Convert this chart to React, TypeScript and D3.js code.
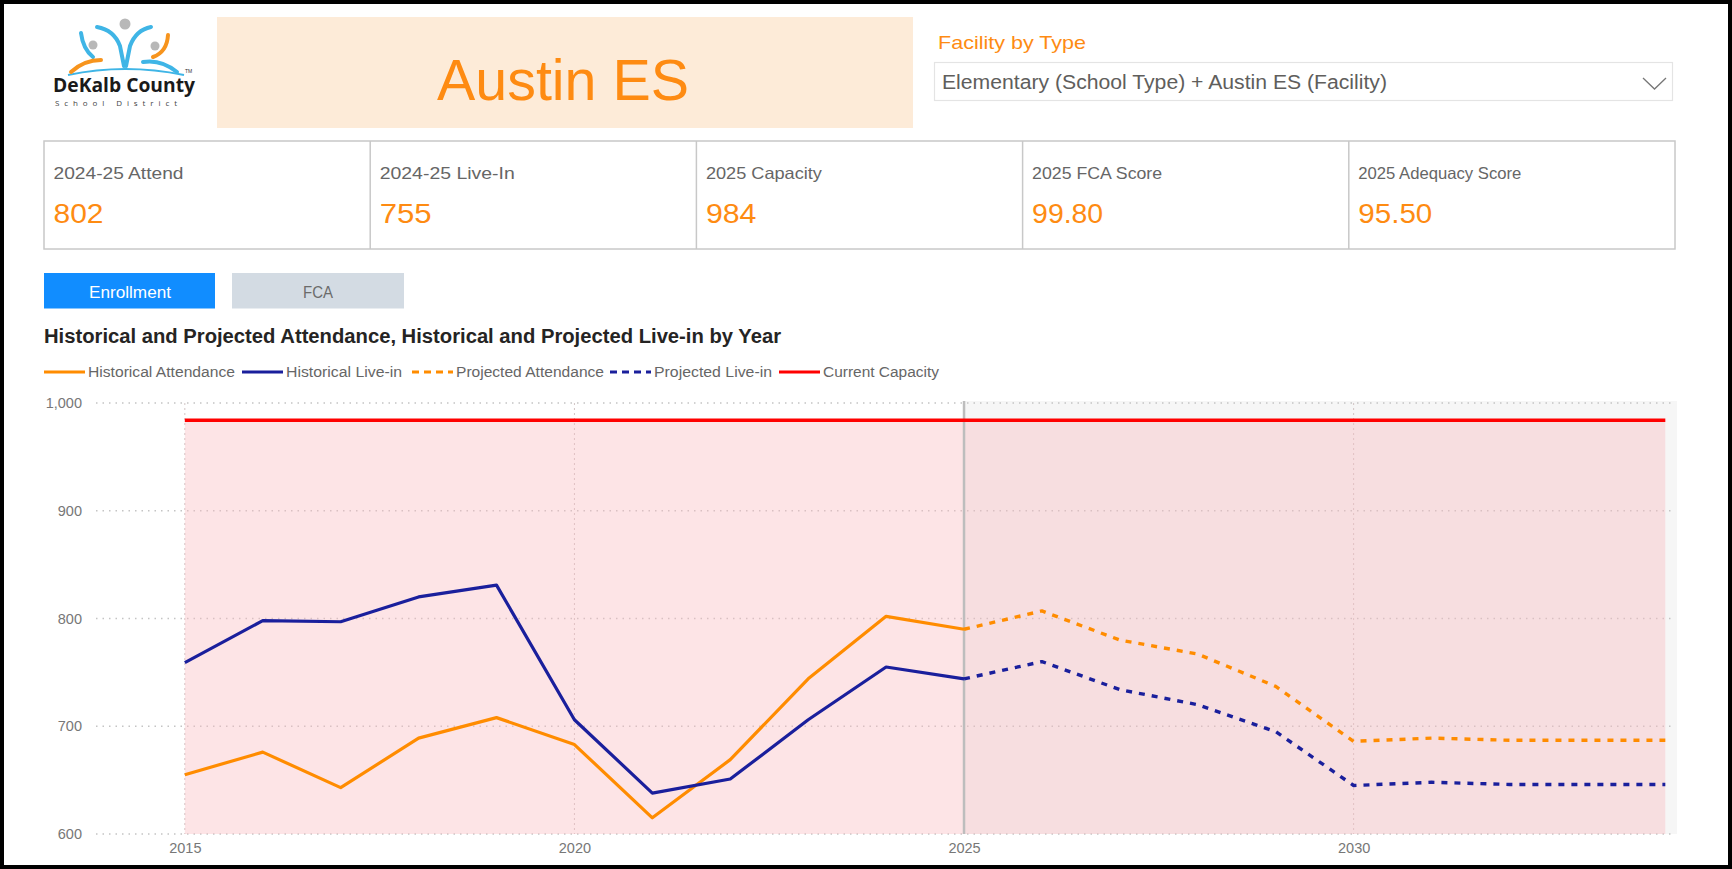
import React, { useEffect, useRef } from 'react';
import * as d3 from 'd3';

const historicalYears = [2015, 2016, 2017, 2018, 2019, 2020, 2021, 2022, 2023, 2024, 2025];
const historicalAttendance = [655, 676, 643, 689, 708, 683, 615, 669, 744, 802, 790];
const historicalLiveIn = [759, 798, 797, 820, 831, 706, 638, 651, 706, 755, 744];
const projectedYears = [2025, 2026, 2027, 2028, 2029, 2030, 2031, 2032, 2033, 2034];
const projectedAttendance = [790, 807, 780, 767, 737, 686, 689, 687, 687, 687];
const projectedLiveIn = [744, 760, 734, 720, 695, 645, 648, 646, 646, 646];
const capacityYears = [2015, 2034];
const currentCapacity = 984;
const currentYear = 2025;

const yTicks = [600, 700, 800, 900, 1000];
const xTicks = [2015, 2020, 2025, 2030];

// Tarjetas KPI
const kpiLabels = ["2024-25 Attend", "2024-25 Live-In", "2025 Capacity", "2025 FCA Score", "2025 Adequacy Score"];
const kpiValues = ["802", "755", "984", "99.80", "95.50"];

// Leyenda
const legendLabels = ["Historical Attendance", "Historical Live-in", "Projected Attendance", "Projected Live-in", "Current Capacity"];
const legendColors = ["#ff8c00", "#1a1f9c", "#ff8c00", "#1a1f9c", "#ff0000"];
const legendDashed = [false, false, true, true, false];

const schoolName = "Austin ES";
const slicerTitle = "Facility by Type";
const slicerValue = "Elementary (School Type) + Austin ES (Facility)";
const chartTitle = "Historical and Projected Attendance, Historical and Projected Live-in by Year";

// Dimensiones generales
const W = 1732;
const H = 869;
const plot = { left: 96, right: 1677, top: 401, bottom: 834, yTop: 403 };
const font = "'Liberation Sans', Arial, sans-serif";
const orange = "#ff8c00";
const textOrange = "#fe8b12";
const navy = "#1a1f9c";

// Anchos de texto medidos en la imagen
const kpiLabelWidths = [130, 135, 116, 130, 163];
const kpiValueWidths = [50, 52, 50.5, 71, 74];
const legendX = [44, 242, 412, 610, 779];
const legendTextWidths = [147, 116, 148, 118, 116];

const App = () => {
    const svgRef = useRef(null);

    useEffect(() => {
        const svg = d3.select(svgRef.current);
        svg.selectAll("*").remove();
        svg.style("font-family", font);

        // Fondo blanco
        svg.append("rect").attr("width", W).attr("height", H).attr("fill", "#fff");

        // Logo del distrito
        const logo = svg.append("g");
        const lBlue = "#3fb5e6", lOrange = "#f7941d", lGrey = "#b8b8b8";
        logo.append("path").attr("d", "M68,75 Q125,63 184,75").attr("fill", "none")
            .attr("stroke", lBlue).attr("stroke-width", 2);
        [[125, 24, 5.5], [93, 45, 4.5], [155, 46, 4.5]].forEach(([cx, cy, r]) => {
            logo.append("circle").attr("cx", cx).attr("cy", cy).attr("r", r).attr("fill", lGrey);
        });
        const strokes = [
            ["M97,27 Q114,30 120,46 L124,66", lBlue],
            ["M151,27 Q136,30 130,46 L126,66", lBlue],
            ["M81,33 Q83,49 93,57", lBlue],
            ["M71,72 Q84,60 101,60", lOrange],
            ["M168,35 Q167,52 153,57", lOrange],
            ["M143,62 Q161,59 177,72", lBlue],
        ];
        strokes.forEach(([d, c]) => {
            logo.append("path").attr("d", d).attr("fill", "none").attr("stroke", c)
                .attr("stroke-width", 4).attr("stroke-linecap", "round");
        });
        logo.append("text").attr("x", 53).attr("y", 91.5).attr("font-family", "'Open Sans', sans-serif")
            .attr("font-weight", 700).attr("font-size", 19).attr("fill", "#1a1a1a")
            .attr("textLength", 142).attr("lengthAdjust", "spacingAndGlyphs").text("DeKalb County");
        logo.append("text").attr("x", 55).attr("y", 105.5).attr("font-family", "'Open Sans', sans-serif")
            .attr("font-size", 8).attr("fill", "#444").attr("textLength", 122).attr("lengthAdjust", "spacing")
            .text("School District");
        logo.append("text").attr("x", 185).attr("y", 73).attr("font-size", 5).attr("fill", "#333").text("TM");

        // Encabezado con el nombre de la escuela
        svg.append("rect").attr("x", 217).attr("y", 17).attr("width", 696).attr("height", 111).attr("fill", "#fdebd8");
        svg.append("text").attr("x", 563).attr("y", 100).attr("text-anchor", "middle")
            .attr("font-size", 57).attr("fill", textOrange)
            .attr("textLength", 252).attr("lengthAdjust", "spacingAndGlyphs").text(schoolName);

        // Segmentador "Facility by Type"
        svg.append("text").attr("x", 938).attr("y", 49).attr("font-size", 19).attr("fill", textOrange)
            .attr("textLength", 148).attr("lengthAdjust", "spacingAndGlyphs").text(slicerTitle);
        svg.append("rect").attr("x", 934.5).attr("y", 62.5).attr("width", 738).attr("height", 38)
            .attr("fill", "#fff").attr("stroke", "#e4e4e4").attr("stroke-width", 1.2);
        svg.append("text").attr("x", 942).attr("y", 89).attr("font-size", 19.5).attr("fill", "#605e5c")
            .attr("textLength", 445).attr("lengthAdjust", "spacingAndGlyphs").text(slicerValue);
        svg.append("path").attr("d", "M1643,78 L1654.5,89 L1666,78").attr("fill", "none")
            .attr("stroke", "#777").attr("stroke-width", 1.3);

        // Tarjetas KPI
        const kpiX = d3.scaleBand().domain(kpiLabels).range([44, 1675]);
        svg.append("rect").attr("x", 44).attr("y", 141).attr("width", 1631).attr("height", 108)
            .attr("fill", "none").attr("stroke", "#c8c8c8").attr("stroke-width", 1.5);
        const cards = svg.append("g").selectAll("g").data(kpiLabels).join("g")
            .attr("transform", d => `translate(${kpiX(d)},0)`);
        cards.filter((d, i) => i > 0).append("line").attr("x1", 0).attr("x2", 0).attr("y1", 141).attr("y2", 249)
            .attr("stroke", "#c8c8c8").attr("stroke-width", 1.5);
        cards.append("text").attr("x", 9.5).attr("y", 179).attr("font-size", 16.5).attr("fill", "#666")
            .attr("textLength", (d, i) => kpiLabelWidths[i]).attr("lengthAdjust", "spacingAndGlyphs").text(d => d);
        cards.append("text").attr("x", 9.5).attr("y", 222.5).attr("font-size", 28).attr("fill", textOrange)
            .attr("textLength", (d, i) => kpiValueWidths[i]).attr("lengthAdjust", "spacingAndGlyphs")
            .text((d, i) => kpiValues[i]);

        // Botones de navegación
        svg.append("rect").attr("x", 44).attr("y", 273).attr("width", 171).attr("height", 35.5).attr("fill", "#118dff");
        svg.append("text").attr("x", 130).attr("y", 297.5).attr("text-anchor", "middle").attr("font-size", 16.5)
            .attr("fill", "#fff").attr("textLength", 82).attr("lengthAdjust", "spacingAndGlyphs").text("Enrollment");
        svg.append("rect").attr("x", 232).attr("y", 273).attr("width", 172).attr("height", 35.5).attr("fill", "#d3dbe3");
        svg.append("text").attr("x", 318).attr("y", 297.5).attr("text-anchor", "middle").attr("font-size", 16.5)
            .attr("fill", "#6b6b6b").attr("textLength", 30).attr("lengthAdjust", "spacingAndGlyphs").text("FCA");

        // Título del gráfico
        svg.append("text").attr("x", 44).attr("y", 343).attr("font-size", 19.5).attr("font-weight", 700)
            .attr("fill", "#252423").attr("textLength", 737).attr("lengthAdjust", "spacingAndGlyphs").text(chartTitle);

        // Leyenda
        const legend = svg.append("g").selectAll("g").data(legendLabels).join("g")
            .attr("transform", (d, i) => `translate(${legendX[i]},372)`);
        legend.append("line").attr("x1", 0).attr("x2", 41).attr("y1", 0).attr("y2", 0)
            .attr("stroke", (d, i) => legendColors[i]).attr("stroke-width", 3)
            .attr("stroke-dasharray", (d, i) => legendDashed[i] ? "7,5" : null);
        legend.append("text").attr("x", 44).attr("y", 5).attr("font-size", 14)
            .attr("fill", "#666").attr("textLength", (d, i) => legendTextWidths[i])
            .attr("lengthAdjust", "spacingAndGlyphs").text(d => d);

        // Escalas
        const x = d3.scaleLinear().domain([2013.86, 2034.15]).range([plot.left, plot.right]);
        const y = d3.scaleLinear().domain([600, 1000]).range([plot.bottom, plot.yTop]);

        // Zona de proyección (gris)
        svg.append("rect").attr("x", x(currentYear)).attr("y", plot.top)
            .attr("width", plot.right - x(currentYear)).attr("height", plot.bottom - plot.top).attr("fill", "#f6f6f6");

        // Líneas de cuadrícula punteadas
        svg.append("g").selectAll("line").data(yTicks).join("line")
            .attr("x1", plot.left).attr("x2", plot.right - 2).attr("y1", d => y(d)).attr("y2", d => y(d))
            .attr("stroke", "#c4c4c4").attr("stroke-width", 1.5).attr("stroke-dasharray", "1.5,5");
        svg.append("g").selectAll("line").data(xTicks.filter(d => d !== currentYear)).join("line")
            .attr("x1", d => x(d)).attr("x2", d => x(d)).attr("y1", plot.yTop).attr("y2", plot.bottom)
            .attr("stroke", "#d0c4c4").attr("stroke-width", 1).attr("stroke-dasharray", "2,3");

        // Área bajo la capacidad actual
        const capArea = d3.area().x(d => x(d)).y0(y(600)).y1(y(currentCapacity));
        svg.append("path").datum(capacityYears).attr("d", capArea)
            .attr("fill", "rgb(250,188,192)").attr("fill-opacity", 0.4);

        // Línea vertical del año actual
        svg.append("line").attr("x1", x(currentYear)).attr("x2", x(currentYear))
            .attr("y1", plot.top).attr("y2", plot.bottom).attr("stroke", "#bdbdbd").attr("stroke-width", 2.5);

        // Ejes
        const yAxis = svg.append("g").attr("transform", `translate(${plot.left},0)`)
            .call(d3.axisLeft(y).tickValues(yTicks).tickFormat(d3.format(",")).tickSize(0).tickPadding(14));
        yAxis.select(".domain").remove();
        yAxis.selectAll("text").attr("font-size", 14.5).attr("fill", "#777").attr("font-family", font);

        const xAxis = svg.append("g").attr("transform", `translate(0,${plot.bottom})`)
            .call(d3.axisBottom(x).tickValues(xTicks).tickFormat(d3.format("d")).tickSize(0).tickPadding(9));
        xAxis.select(".domain").remove();
        xAxis.selectAll("text").attr("font-size", 14.5).attr("fill", "#777").attr("font-family", font);

        // Series
        const line = d3.line().x(d => x(d[0])).y(d => y(d[1]));
        const series = [
            { years: capacityYears, values: capacityYears.map(() => currentCapacity), color: "#ff0000", dash: null, w: 3.5 },
            { years: historicalYears, values: historicalAttendance, color: orange, dash: null, w: 3.2 },
            { years: historicalYears, values: historicalLiveIn, color: navy, dash: null, w: 3.2 },
            { years: projectedYears, values: projectedAttendance, color: orange, dash: "6,7", w: 3.4 },
            { years: projectedYears, values: projectedLiveIn, color: navy, dash: "6,7", w: 3.4 },
        ];
        series.forEach(s => {
            svg.append("path").datum(s.years.map((yr, i) => [yr, s.values[i]]))
                .attr("d", line).attr("fill", "none").attr("stroke", s.color)
                .attr("stroke-width", s.w).attr("stroke-dasharray", s.dash)
                .attr("stroke-linejoin", "round");
        });

        // Marco exterior
        svg.append("rect").attr("x", 2).attr("y", 2).attr("width", W - 4).attr("height", H - 4)
            .attr("fill", "none").attr("stroke", "#000").attr("stroke-width", 4);
    }, []);

    return (
        <svg ref={svgRef} width={W} height={H} style={{ position: 'absolute', left: 0, top: 0, display: 'block' }}></svg>
    );
};

export default App;
